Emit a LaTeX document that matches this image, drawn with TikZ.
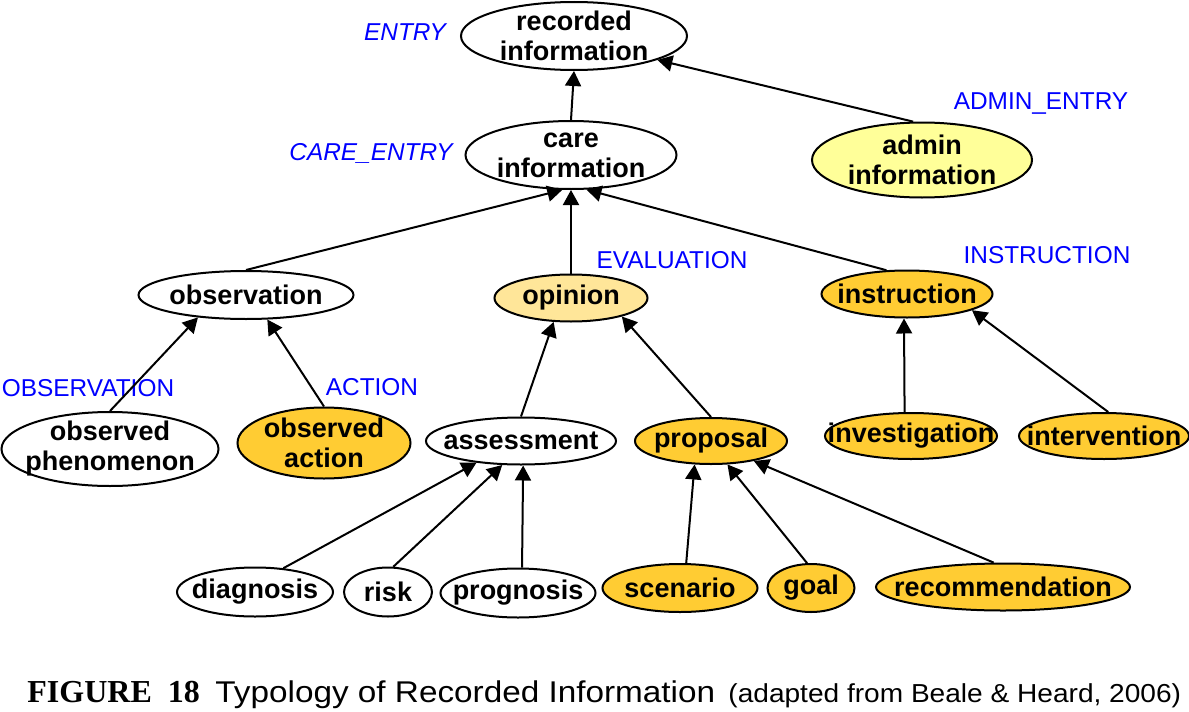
\documentclass[tikz,border=0pt]{standalone}
\usepackage{fontspec}
\usepackage{xcolor}
\usepackage{tikz}
\usetikzlibrary{arrows.meta, shapes.geometric}
\setmainfont{Liberation Sans}
\newfontfamily\capserif{Liberation Serif}
\definecolor{recblue}{HTML}{0000FF}
\definecolor{recorange}{HTML}{FFCC33}
\definecolor{recpale}{HTML}{FFFF99}
\newcommand\clsfont{\fontsize{13.5}{15}\selectfont\bfseries}

\begin{document}
\begin{tikzpicture}[x=0.5pt, y=-0.5pt,
    cls/.style 2 args={ellipse, draw, line width=1pt, minimum width=#1,
                minimum height=#2, inner sep=-40pt, font=\clsfont, align=center},
    wht/.style={fill=white},
    org/.style={fill=recorange},
    pale/.style={fill=recpale},
    dotted fill/.style={fill=recorange!50},
    lbl/.style={text=recblue, font=\fontsize{12.2}{14}\selectfont},
    ilbl/.style={lbl, font=\fontsize{12.2}{14}\selectfont\itshape},
    link/.style={-{Triangle[length=7.5pt, width=8pt]}, line width=1pt},
]
    \useasboundingbox (0,0) rectangle (1189,712);

    % top levels
    \node[cls={113pt}{34pt}, wht] (rec) at (574,36) {recorded\\information};
    \node[cls={105.5pt}{34pt}, wht] (care) at (571,155) {care\\information};
    \node[cls={110pt}{37.5pt}, pale] (admin) at (922,160) {admin\\information};

    \node[cls={107.5pt}{24pt}, wht] (obs) at (246,295) {observation};
    \node[cls={76.5pt}{23.5pt}, dotted fill] (opin) at (571,298) {opinion};
    \node[cls={85.5pt}{23.5pt}, org] (instr) at (907,294) {instruction};

    \node[cls={108.5pt}{37pt}, wht] (obph) at (110,449) {observed\\phenomenon};
    \node[cls={86.5pt}{35.5pt}, org] (obact) at (324,443) {observed\\action};
    \node[cls={95pt}{23.5pt}, wht] (assess) at (521,441) {assessment};
    \node[cls={76pt}{23pt}, org] (prop) at (711,441) {proposal};
    \node[cls={86pt}{23pt}, org] (invest) at (911,436) {investigation};
    \node[cls={85pt}{23pt}, org] (interv) at (1104,436) {intervention};

    \node[cls={78pt}{24.5pt}, wht] (diag) at (255,592) {diagnosis};
    \node[cls={44pt}{24.5pt}, wht] (risk) at (388,592) {risk};
    \node[cls={77.5pt}{24.5pt}, wht] (progn) at (518,593) {prognosis};
    \node[cls={77.5pt}{24pt}, org] (scen) at (680,588) {scenario};
    \node[cls={43.5pt}{24pt}, org] (goal) at (811,588) {goal};
    \node[cls={127pt}{23.5pt}, org] (recom) at (1003,587) {recommendation};

    % class names
    \node[ilbl] (lentry) at (405,32) {ENTRY};
    \node[ilbl] (lcare) at (371,153) {CARE\_ENTRY};
    \node[lbl] (ladmin) at (1041,104) {ADMIN\_ENTRY};
    \node[lbl] (leval) at (672,260) {EVALUATION};
    \node[lbl] (linstr) at (1047,255) {INSTRUCTION};
    \node[lbl] (lobs) at (88,388) {OBSERVATION};
    \node[lbl] (lact) at (372,387) {ACTION};

    % inheritance
    \draw[link] (care.north) -- (rec.south);
    \draw[link] (admin.103) -- (rec.-16);
    \draw[link] (obs.north) -- (care.-104);
    \draw[link] (opin.north) -- (care.south);
    \draw[link] (instr.131) -- (care.-66);
    \draw[link] (obph.north) -- (obs.-155);
    \draw[link] (obact.north) -- (obs.-49);
    \draw[link] (assess.north) -- (opin.-126);
    \draw[link] (prop.north) -- (opin.-20);
    \draw[link] (invest.105) -- (instr.-97);
    \draw[link] (interv.80) -- (instr.-14);
    \draw[link] (diag.40) -- (assess.-154);
    \draw[link] (risk.78) -- (assess.-128);
    \draw[link] (progn.81) -- (assess.-85);
    \draw[link] (scen.76) -- (prop.-125);
    \draw[link] (goal.99) -- (prop.-55);
    \draw[link] (recom.111) -- (prop.-25);

    % caption
    \node[anchor=base west, inner sep=0pt, font=\capserif\bfseries\fontsize{16}{18}\selectfont] (fig) at (27,702) {FIGURE\ \ 18};
    \node[anchor=base west, inner sep=0pt, xscale=1.11, font=\fontsize{15}{18}\selectfont] (title) at (215,702) {Typology of Recorded Information};
    \node[anchor=base west, inner sep=0pt, xscale=1.08, font=\fontsize{13}{16}\selectfont] (src) at (728,702) {(adapted from Beale \& Heard, 2006)};
\end{tikzpicture}
\end{document}
